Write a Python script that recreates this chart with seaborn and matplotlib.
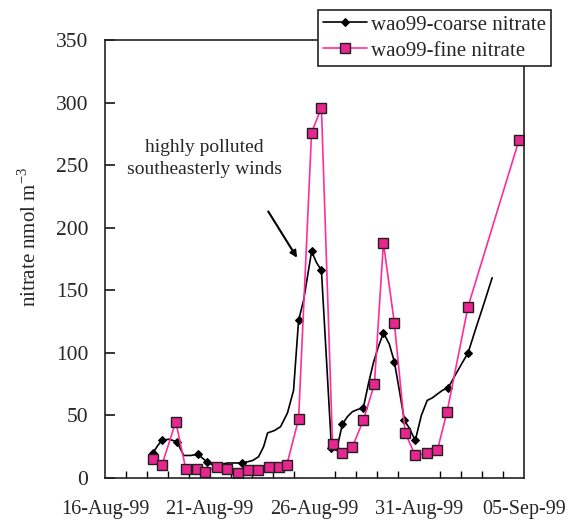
import datetime as dt

import matplotlib
matplotlib.use("Agg")
import matplotlib.dates as mdates
import matplotlib.pyplot as plt
import pandas as pd
import seaborn as sns

# Sampling times, in days after 16-Aug-99 00:00
coarse_day = [2.29, 2.52, 2.71, 3.05, 3.43, 3.76, 4.10, 4.43, 4.86, 5.19, 5.52,
              5.86, 6.24, 6.52, 6.81, 7.05, 7.33, 7.57, 7.76, 8.10, 8.38, 8.71,
              9.00, 9.24, 9.48, 9.86, 10.10, 10.33, 10.81, 11.05, 11.33, 11.57,
              11.81, 12.10, 12.33, 12.57, 12.81, 13.05, 13.29, 13.57, 13.81,
              14.05, 14.29, 14.52, 14.81, 15.10, 15.38, 15.62, 15.86, 16.10,
              16.38, 16.71, 17.05, 17.33, 17.71, 18.10, 18.48]
coarse_nitrate = [20, 26, 30, 31, 29, 18, 18, 19, 13, 10, 11,
                  12, 12, 12, 13, 14, 17, 25, 36, 38, 41, 52,
                  70, 126, 142, 181, 172, 166, 24, 22, 43, 49,
                  53, 55, 56, 75, 92, 105, 116, 107, 93,
                  70, 46, 40, 30, 50, 62, 64, 67, 70,
                  72, 82, 92, 100, 120, 140, 160]
# Samples of the coarse series that carry a marker symbol
coarse_marked = [0, 2, 4, 7, 8, 13, 23, 25, 27, 28, 30, 34, 38, 40, 42, 44, 50, 53]

fine_day = [2.29, 2.71, 3.38, 3.86, 4.38, 4.76, 5.33, 5.81, 6.33, 6.81, 7.29,
            7.81, 8.29, 8.67, 9.24, 9.86, 10.33, 10.86, 11.33, 11.81, 12.33,
            12.86, 13.29, 13.81, 14.33, 14.81, 15.38, 15.86, 16.33, 17.33, 19.76]
fine_nitrate = [15, 10, 45, 7, 7, 5, 9, 7, 4, 6, 6,
                9, 9, 10, 47, 276, 296, 27, 20, 25, 46,
                75, 188, 124, 36, 18, 20, 22, 53, 137, 270]

series_names = ["wao99-coarse nitrate", "wao99-fine nitrate"]
x_ticks = ["1999-08-16", "1999-08-21", "1999-08-26", "1999-08-31", "1999-09-05"]
y_ticks = [0, 50, 100, 150, 200, 250, 300, 350]

start = dt.datetime(1999, 8, 16)
coarse = pd.DataFrame({"time": [start + dt.timedelta(days=d) for d in coarse_day],
                       "nitrate": coarse_nitrate})
fine = pd.DataFrame({"time": [start + dt.timedelta(days=d) for d in fine_day],
                     "nitrate": fine_nitrate})

sns.set_style("white")
plt.rcParams["font.family"] = ["Liberation Serif", "DejaVu Serif"]
plt.rcParams["mathtext.fontset"] = "custom"
plt.rcParams["mathtext.rm"] = "Liberation Serif"

fig = plt.figure(figsize=(5.71, 5.20), dpi=100)
ax = fig.add_axes([105 / 571, 1 - 478 / 520, 419 / 571, 438 / 520])

sns.lineplot(data=coarse, x="time", y="nitrate", ax=ax, color="black",
             linewidth=1.2, marker="D", markersize=3.8, markeredgecolor="black",
             markerfacecolor="black", markevery=coarse_marked,
             label=series_names[0], sort=False)
sns.lineplot(data=fine, x="time", y="nitrate", ax=ax, color="#ff2d9b",
             linewidth=1.2, marker="s", markersize=6.5, markeredgecolor="#202020",
             markeredgewidth=1.0, markerfacecolor="#e8268f",
             label=series_names[1], sort=False)

ax.set_xlim(pd.Timestamp(x_ticks[0]), pd.Timestamp(x_ticks[-1]))
ax.set_ylim(y_ticks[0], y_ticks[-1])
ax.set_xticks([pd.Timestamp(t) for t in x_ticks])
ax.xaxis.set_major_formatter(mdates.DateFormatter("%d-%b-%y"))
ax.xaxis.set_minor_locator(mdates.DayLocator())
ax.set_yticks(y_ticks)

ax.tick_params(axis="x", which="major", direction="inout", length=9, width=1.1,
               labelsize=14.5, pad=11, color="black")
ax.tick_params(axis="x", which="minor", direction="in", length=5, width=1.0,
               color="black", bottom=True)
ax.tick_params(axis="y", which="major", direction="in", length=7, width=1.1,
               labelsize=15.5, pad=12, color="black", left=True)

for side in ["left", "right", "top", "bottom"]:
    ax.spines[side].set_visible(True)
    ax.spines[side].set_color("#222222")
    ax.spines[side].set_linewidth(1.2)

ax.set_xlabel("")
ax.set_ylabel(r"nitrate nmol m$^{\mathregular{-3}}$", fontsize=15)
ax.yaxis.set_label_coords(-0.153, 0.55)

ax.text(pd.Timestamp("1999-08-20 18:00"), 255, "highly polluted\nsoutheasterly winds",
        ha="center", va="center", fontsize=14, linespacing=1.4)
ax.annotate("", xy=(pd.Timestamp("1999-08-25 04:00"), 176),
            xytext=(pd.Timestamp("1999-08-23 19:00"), 213),
            arrowprops=dict(arrowstyle="-|>", color="black", lw=1.5,
                            mutation_scale=10, shrinkA=0, shrinkB=0))

leg = ax.legend(loc="upper left", bbox_to_anchor=(318 / 571, 1 - 10 / 520),
                bbox_transform=fig.transFigure, frameon=True, fontsize=15,
                handlelength=2.1, handletextpad=0.2, borderpad=0.25,
                labelspacing=0.3, fancybox=False, borderaxespad=0)
leg.get_frame().set_edgecolor("#222222")
leg.get_frame().set_linewidth(1.2)
leg.get_frame().set_facecolor("white")
leg.get_frame().set_alpha(1)
leg.set_clip_on(False)

fig.savefig("out.png", dpi=100)
